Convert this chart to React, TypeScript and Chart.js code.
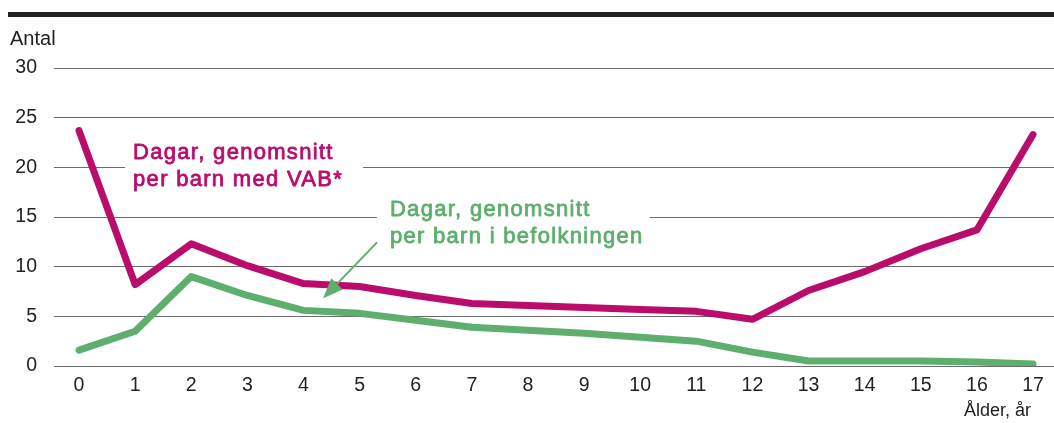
import React, { useEffect, useRef } from "react";
import { Chart, registerables } from "chart.js";

Chart.register(...registerables);

const ages = [0, 1, 2, 3, 4, 5, 6, 7, 8, 9, 10, 11, 12, 13, 14, 15, 16, 17];
const vabDays = [23.7, 8.2, 12.3, 10.1, 8.3, 8.0, 7.1, 6.3, 6.1, 5.9, 5.7, 5.5, 4.7, 7.6, 9.5, 11.8, 13.7, 23.3];
const popDays = [1.6, 3.5, 9.0, 7.1, 5.6, 5.3, 4.6, 3.9, 3.6, 3.3, 2.9, 2.5, 1.4, 0.5, 0.5, 0.5, 0.4, 0.2];
const yTicks = [0, 5, 10, 15, 20, 25, 30];

const PINK = "#BA0C6B";
const GREEN = "#5EAE6D";
const FONT = "'Liberation Sans', Arial, Helvetica, sans-serif";

const vabLabel = ["Dagar, genomsnitt", "per barn med VAB*"];
const popLabel = ["Dagar, genomsnitt", "per barn i befolkningen"];
const yTitle = "Antal";
const xTitle = "Ålder, år";

// annotation anchors in data units
const vabLabelAnchor = { x: 0.963, y: 20.86 };
const popLabelAnchor = { x: 5.54, y: 15.15 };
const arrowFrom = { x: 5.31, y: 12.44 };
const arrowTo = { x: 4.35, y: 6.82 };

const annotations = {
  id: "annotations",
  beforeDatasetsDraw(chart: any) {
    const { ctx, scales } = chart;
    const xs = scales.x;
    const ys = scales.y;
    ctx.save();
    ctx.font = `22px ${FONT}`;
    (ctx as any).letterSpacing = "1.3px";
    ctx.textBaseline = "alphabetic";
    ctx.textAlign = "left";
    ctx.lineJoin = "round";
    const drawLabel = (lines: string[], anchor: any, color: string, padL: number, padR: number) => {
      const x = xs.getPixelForValue(anchor.x);
      const y = ys.getPixelForValue(anchor.y);
      const w = Math.max(...lines.map((l) => ctx.measureText(l).width));
      ctx.fillStyle = "#ffffff";
      ctx.fillRect(x - padL, y - 20, w + padL + padR, 56);
      ctx.fillStyle = color;
      ctx.strokeStyle = color;
      ctx.lineWidth = 0.8;
      lines.forEach((l, i) => {
        ctx.fillText(l, x, y + i * 27);
        ctx.strokeText(l, x, y + i * 27);
      });
    };
    drawLabel(vabLabel, vabLabelAnchor, PINK, 8, 20);
    drawLabel(popLabel, popLabelAnchor, GREEN, 13, 6);
    ctx.restore();
  },
  afterDatasetsDraw(chart: any) {
    const { ctx, scales } = chart;
    const xs = scales.x;
    const ys = scales.y;
    ctx.save();
    const x1 = xs.getPixelForValue(arrowFrom.x);
    const y1 = ys.getPixelForValue(arrowFrom.y);
    const x2 = xs.getPixelForValue(arrowTo.x);
    const y2 = ys.getPixelForValue(arrowTo.y);
    const ang = Math.atan2(y2 - y1, x2 - x1);
    const headLen = 20;
    const headHalf = 8;
    const bx = x2 - headLen * Math.cos(ang);
    const by = y2 - headLen * Math.sin(ang);
    ctx.strokeStyle = GREEN;
    ctx.lineWidth = 2;
    ctx.beginPath();
    ctx.moveTo(x1, y1);
    ctx.lineTo(bx, by);
    ctx.stroke();
    ctx.fillStyle = GREEN;
    ctx.beginPath();
    ctx.moveTo(x2, y2);
    ctx.lineTo(bx + headHalf * Math.sin(ang), by - headHalf * Math.cos(ang));
    ctx.lineTo(bx - headHalf * Math.sin(ang), by + headHalf * Math.cos(ang));
    ctx.closePath();
    ctx.fill();
    ctx.restore();
  },
  afterDraw(chart: any) {
    const { ctx, chartArea } = chart;
    ctx.save();
    ctx.fillStyle = "#222222";
    ctx.fillRect(8, 12, chart.width - 8, 5);
    ctx.fillStyle = "#222222";
    ctx.font = `20px ${FONT}`;
    ctx.textAlign = "left";
    ctx.textBaseline = "alphabetic";
    ctx.fillText(yTitle, 10, 45);
    ctx.font = `18px ${FONT}`;
    ctx.textAlign = "right";
    ctx.fillText(xTitle, chartArea.right - 23, 416);
    ctx.restore();
  },
};

export default function App() {
  const ref = useRef<HTMLCanvasElement>(null);
  useEffect(() => {
    if (!ref.current) return;
    const chart = new Chart(ref.current, {
      type: "line",
      data: {
        datasets: [
          {
            data: ages.map((a, i) => ({ x: a, y: vabDays[i] })),
            borderColor: PINK,
            borderWidth: 7,
            pointRadius: 0,
            borderCapStyle: "round",
            borderJoinStyle: "round",
            tension: 0,
          },
          {
            data: ages.map((a, i) => ({ x: a, y: popDays[i] })),
            borderColor: GREEN,
            borderWidth: 7,
            pointRadius: 0,
            borderCapStyle: "round",
            borderJoinStyle: "round",
            tension: 0,
          },
        ],
      },
      options: {
        animation: false,
        responsive: false,
        devicePixelRatio: 1,
        layout: { padding: { top: 68, left: 0, right: 0, bottom: 0 } },
        plugins: { legend: { display: false }, tooltip: { enabled: false }, title: { display: false } },
        scales: {
          x: {
            type: "linear",
            min: -0.446,
            max: 17.374,
            afterBuildTicks: (s: any) => {
              s.ticks = ages.map((v) => ({ value: v }));
            },
            afterFit: (s: any) => {
              s.height = 57;
            },
            grid: { display: false, drawTicks: false },
            border: { display: false },
            ticks: {
              padding: 8,
              color: "#222222",
              font: { family: FONT, size: 19.5 },
              maxRotation: 0,
              autoSkip: false,
              callback: (v: any) => String(v),
            },
          },
          y: {
            min: 0,
            max: 30,
            afterBuildTicks: (s: any) => {
              s.ticks = yTicks.map((v) => ({ value: v }));
            },
            afterFit: (s: any) => {
              s.width = 54;
            },
            grid: { color: "#6b6b6b", lineWidth: 1, drawTicks: false },
            border: { display: false },
            ticks: {
              padding: 17,
              color: "#222222",
              font: { family: FONT, size: 19.5 },
              callback: (v: any) => String(v),
            },
          },
        },
      },
      plugins: [annotations],
    });
    return () => chart.destroy();
  }, []);
  return (
    <div style={{ position: "absolute", left: 0, top: 0, width: 1054, height: 423 }}>
      <canvas ref={ref} width={1054} height={423} />
    </div>
  );
}
